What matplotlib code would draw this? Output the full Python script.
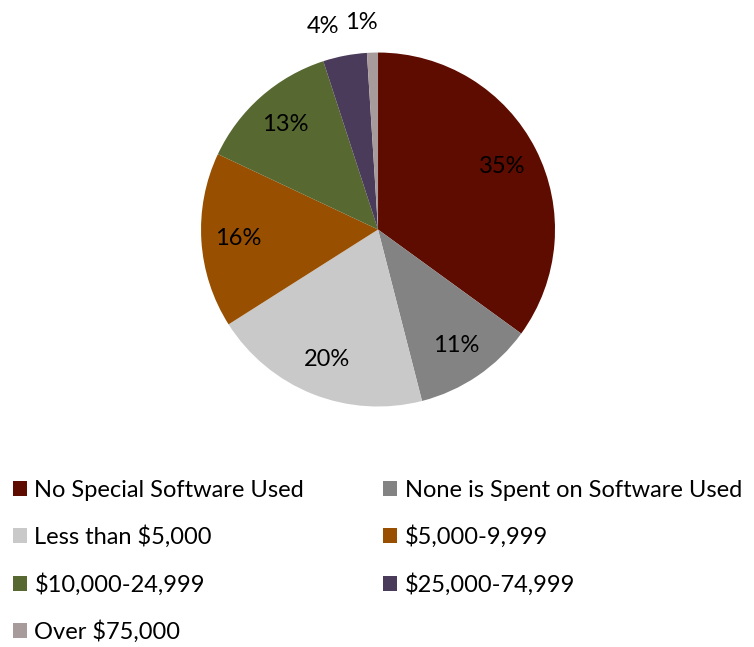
import numpy as np
import matplotlib.pyplot as plt
from matplotlib.patches import Patch

plt.rcParams['font.family'] = ['Lato', 'DejaVu Sans']

categories = ["No Special Software Used", "None is Spent on Software Used",
              "Less than $5,000", "$5,000-9,999", "$10,000-24,999",
              "$25,000-74,999", "Over $75,000"]
shares = [35, 11, 20, 16, 13, 4, 1]
labels = ["35%", "11%", "20%", "16%", "13%", "4%", "1%"]
colors = ["#5E0B00", "#838383", "#C9C9C9", "#984F00", "#576830", "#4A3B5B", "#A89B9B"]

fig = plt.figure(figsize=(7.54, 6.47), dpi=100)
ax = fig.add_axes([0.2666, 0.3717, 0.4695, 0.5471])

wedges, _ = ax.pie(shares, colors=colors, startangle=90, counterclock=False,
                   radius=1, wedgeprops=dict(linewidth=0))
ax.set_xlim(-1, 1)
ax.set_ylim(-1, 1)
ax.set_aspect('equal')

# small slices get their labels outside, nudged left so they don't collide
outside_dx = {4: -0.09, 1: -0.055}
for w, lab, v in zip(wedges, labels, shares):
    mid = np.deg2rad((w.theta1 + w.theta2) / 2)
    if v >= 10:
        r, dx = 0.79, 0.0
    else:
        r, dx = 1.17, outside_dx[v]
    ax.text(r * np.cos(mid) + dx, r * np.sin(mid), lab, ha='center', va='center',
            fontsize=17, color='black')

# legend is filled row by row in the reference, matplotlib fills by column
order = [0, 2, 4, 6, 1, 3, 5]
handles = [Patch(facecolor=colors[i], edgecolor='none') for i in order]
fig.legend(handles, [categories[i] for i in order], ncol=2, loc='upper left',
           bbox_to_anchor=(0.005, 0.273), frameon=False, fontsize=17,
           handlelength=0.6, handleheight=0.6, handletextpad=0.3,
           labelspacing=1.05, columnspacing=3.35, borderaxespad=0)

fig.savefig("out.png", dpi=100)
